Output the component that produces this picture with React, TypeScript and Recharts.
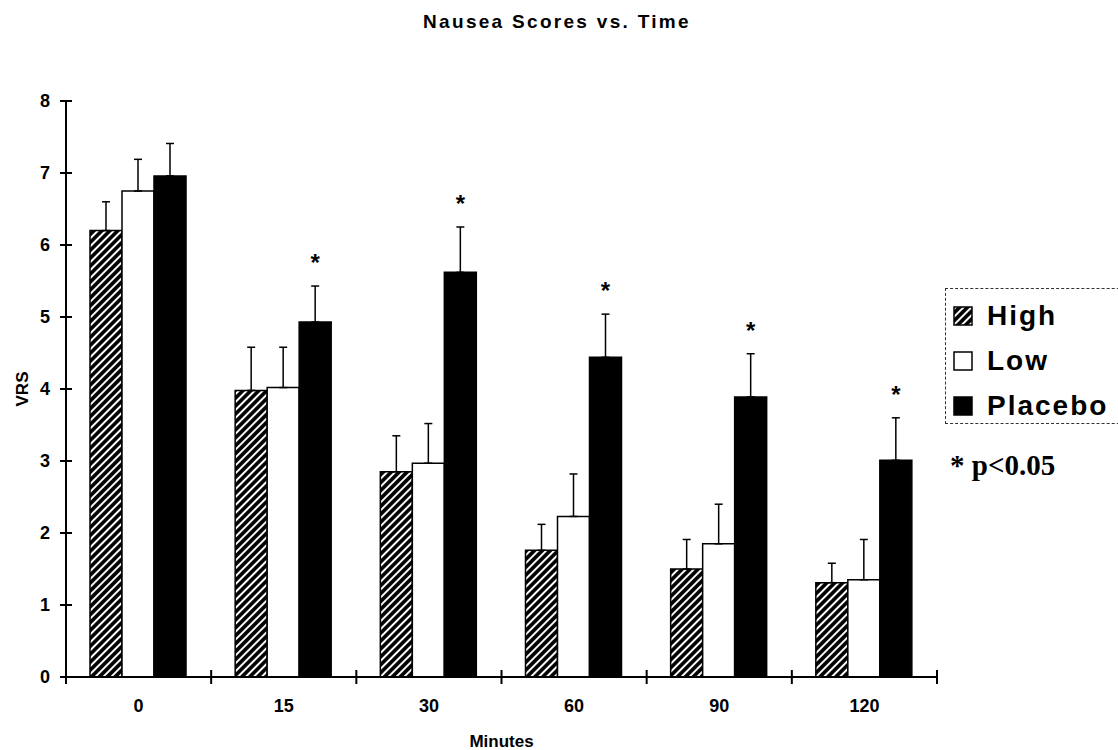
import React from 'react';
import {
  BarChart, Bar, XAxis, YAxis, ErrorBar, LabelList,
} from 'recharts';

const CATEGORIES = ['0', '15', '30', '60', '90', '120'];
const SERIES_NAMES = ['High', 'Low', 'Placebo'];
const HIGH = [6.2, 3.98, 2.85, 1.76, 1.5, 1.31];
const HIGH_ERR = [0.4, 0.6, 0.5, 0.36, 0.41, 0.27];
const LOW = [6.75, 4.02, 2.97, 2.23, 1.85, 1.35];
const LOW_ERR = [0.44, 0.56, 0.55, 0.59, 0.55, 0.56];
const PLACEBO = [6.96, 4.93, 5.62, 4.44, 3.89, 3.01];
const PLACEBO_ERR = [0.45, 0.5, 0.63, 0.6, 0.6, 0.59];
const SIGNIFICANT = [false, true, true, true, true, true];
const Y_TICKS = [0, 1, 2, 3, 4, 5, 6, 7, 8];

const data = CATEGORIES.map((minute, i) => ({
  minute,
  high: HIGH[i],
  highErr: [0, HIGH_ERR[i]],
  low: LOW[i],
  lowErr: [0, LOW_ERR[i]],
  placebo: PLACEBO[i],
  placeboErr: [0, PLACEBO_ERR[i]],
  star: SIGNIFICANT[i] ? '*' : '',
}));

// layout
const W = 1118;
const H = 750;
const PLOT_LEFT = 66;
const PLOT_RIGHT = 937;
const PLOT_TOP = 101;
const PLOT_BOTTOM = 677;
const BAND = (PLOT_RIGHT - PLOT_LEFT) / CATEGORIES.length;
const SANS = '"Liberation Sans", Arial, sans-serif';
const SERIF = '"Liberation Serif", "Times New Roman", serif';

const XTick = (props: any) => {
  const { x, payload, index } = props;
  const right = x + BAND / 2;
  const left = x - BAND / 2;
  return (
    <g>
      <line x1={right} x2={right} y1={PLOT_BOTTOM - 7} y2={PLOT_BOTTOM + 7} stroke="#000" strokeWidth={2} />
      {index === 0 && (
        <line x1={left} x2={left} y1={PLOT_BOTTOM - 7} y2={PLOT_BOTTOM + 7} stroke="#000" strokeWidth={2} />
      )}
      <text
        x={x}
        y={PLOT_BOTTOM + 29}
        textAnchor="middle"
        dominantBaseline="central"
        fontFamily={SANS}
        fontWeight="bold"
        fontSize={18}
        fill="#000"
      >
        {payload.value}
      </text>
    </g>
  );
};

const YTick = (props: any) => {
  const { y, payload } = props;
  return (
    <g>
      <line x1={PLOT_LEFT - 6} x2={PLOT_LEFT + 6} y1={y} y2={y} stroke="#000" strokeWidth={2} />
      <text
        x={50}
        y={y}
        textAnchor="end"
        dominantBaseline="central"
        fontFamily={SANS}
        fontWeight="bold"
        fontSize={18}
        fill="#000"
      >
        {payload.value}
      </text>
    </g>
  );
};

const Star = (props: any) => {
  const { x, y, width, height, value, index } = props;
  if (!value) return null;
  const perUnit = height / PLACEBO[index];
  const errTop = y - PLACEBO_ERR[index] * perUnit;
  return (
    <text
      x={x + width / 2}
      y={errTop - 15}
      textAnchor="middle"
      fontFamily={SANS}
      fontWeight="bold"
      fontSize={24}
      fill="#000"
    >
      {value}
    </text>
  );
};

const Swatch: React.FC<{ kind: number }> = ({ kind }) => (
  <svg width={20} height={20} style={{ display: 'block' }}>
    <defs>
      <pattern id="hatchLegend" patternUnits="userSpaceOnUse" width={5.6} height={5.6} patternTransform="rotate(45)">
        <rect width={5.6} height={5.6} fill="#000" />
        <line x1={2.8} y1={0} x2={2.8} y2={5.6} stroke="#fff" strokeWidth={2} />
      </pattern>
    </defs>
    <rect
      x={1}
      y={1}
      width={18}
      height={18}
      fill={kind === 0 ? 'url(#hatchLegend)' : kind === 1 ? '#fff' : '#000'}
      stroke="#000"
      strokeWidth={1.5}
    />
  </svg>
);

export default function App() {
  return (
    <div
      style={{
        position: 'absolute', left: 0, top: 0, width: W, height: H,
        overflow: 'hidden', background: '#fff', fontFamily: SANS,
      }}
    >
      <div
        style={{
          position: 'absolute', left: 557, top: 10, transform: 'translateX(-50%)',
          fontSize: 19, fontWeight: 'bold', letterSpacing: 2.3, lineHeight: '24px', whiteSpace: 'nowrap',
        }}
      >
        Nausea Scores vs. Time
      </div>

      <BarChart
        width={W}
        height={H}
        data={data}
        margin={{ top: PLOT_TOP, right: W - PLOT_RIGHT, bottom: 0, left: 0 }}
        barCategoryGap={24}
        barGap={0}
      >
        <defs>
          <pattern id="hatch" patternUnits="userSpaceOnUse" width={5.6} height={5.6} patternTransform="rotate(45)">
            <rect width={5.6} height={5.6} fill="#000" />
            <line x1={2.8} y1={0} x2={2.8} y2={5.6} stroke="#fff" strokeWidth={2} />
          </pattern>
        </defs>
        <XAxis
          dataKey="minute"
          height={H - PLOT_BOTTOM}
          interval={0}
          axisLine={{ stroke: '#000', strokeWidth: 2 }}
          tickLine={false}
          tick={<XTick />}
          label={{
            value: 'Minutes', position: 'insideBottom', offset: 3,
            style: { fontFamily: SANS, fontWeight: 'bold', fontSize: 17, fill: '#000' },
          }}
        />
        <YAxis
          type="number"
          domain={[0, 8]}
          ticks={Y_TICKS}
          width={PLOT_LEFT}
          axisLine={{ stroke: '#000', strokeWidth: 2 }}
          tickLine={false}
          tick={<YTick />}
          label={{
            value: 'VRS', angle: -90, position: 'center', dx: -11,
            style: { fontFamily: SANS, fontWeight: 'bold', fontSize: 17, fill: '#000' },
          }}
        />
        <Bar dataKey="high" name={SERIES_NAMES[0]} fill="url(#hatch)" stroke="#000" strokeWidth={1.5} isAnimationActive={false}>
          <ErrorBar dataKey="highErr" width={4} stroke="#000" strokeWidth={1.5} direction="y" isAnimationActive={false} />
        </Bar>
        <Bar dataKey="low" name={SERIES_NAMES[1]} fill="#fff" stroke="#000" strokeWidth={1.5} isAnimationActive={false}>
          <ErrorBar dataKey="lowErr" width={4} stroke="#000" strokeWidth={1.5} direction="y" isAnimationActive={false} />
        </Bar>
        <Bar dataKey="placebo" name={SERIES_NAMES[2]} fill="#000" stroke="#000" strokeWidth={1.5} isAnimationActive={false}>
          <ErrorBar dataKey="placeboErr" width={4} stroke="#000" strokeWidth={1.5} direction="y" isAnimationActive={false} />
          <LabelList dataKey="star" content={<Star />} />
        </Bar>
      </BarChart>

      <div
        style={{
          position: 'absolute', left: 945, top: 288, width: 200, height: 136,
          border: '1px dashed #333', boxSizing: 'border-box',
        }}
      >
        {SERIES_NAMES.map((name, i) => (
          <div
            key={name}
            style={{
              position: 'absolute', left: 7, top: 27 + i * 45 - 15, height: 30,
              display: 'flex', alignItems: 'center',
            }}
          >
            <Swatch kind={i} />
            <span
              style={{
                marginLeft: 14, fontSize: 28, fontWeight: 'bold', letterSpacing: 2, lineHeight: '30px',
              }}
            >
              {name}
            </span>
          </div>
        ))}
      </div>

      <div
        style={{
          position: 'absolute', left: 950, top: 449, fontFamily: SERIF, fontWeight: 'bold',
          fontSize: 29, lineHeight: '32px', whiteSpace: 'nowrap',
        }}
      >
        * p&lt;0.05
      </div>
    </div>
  );
}
